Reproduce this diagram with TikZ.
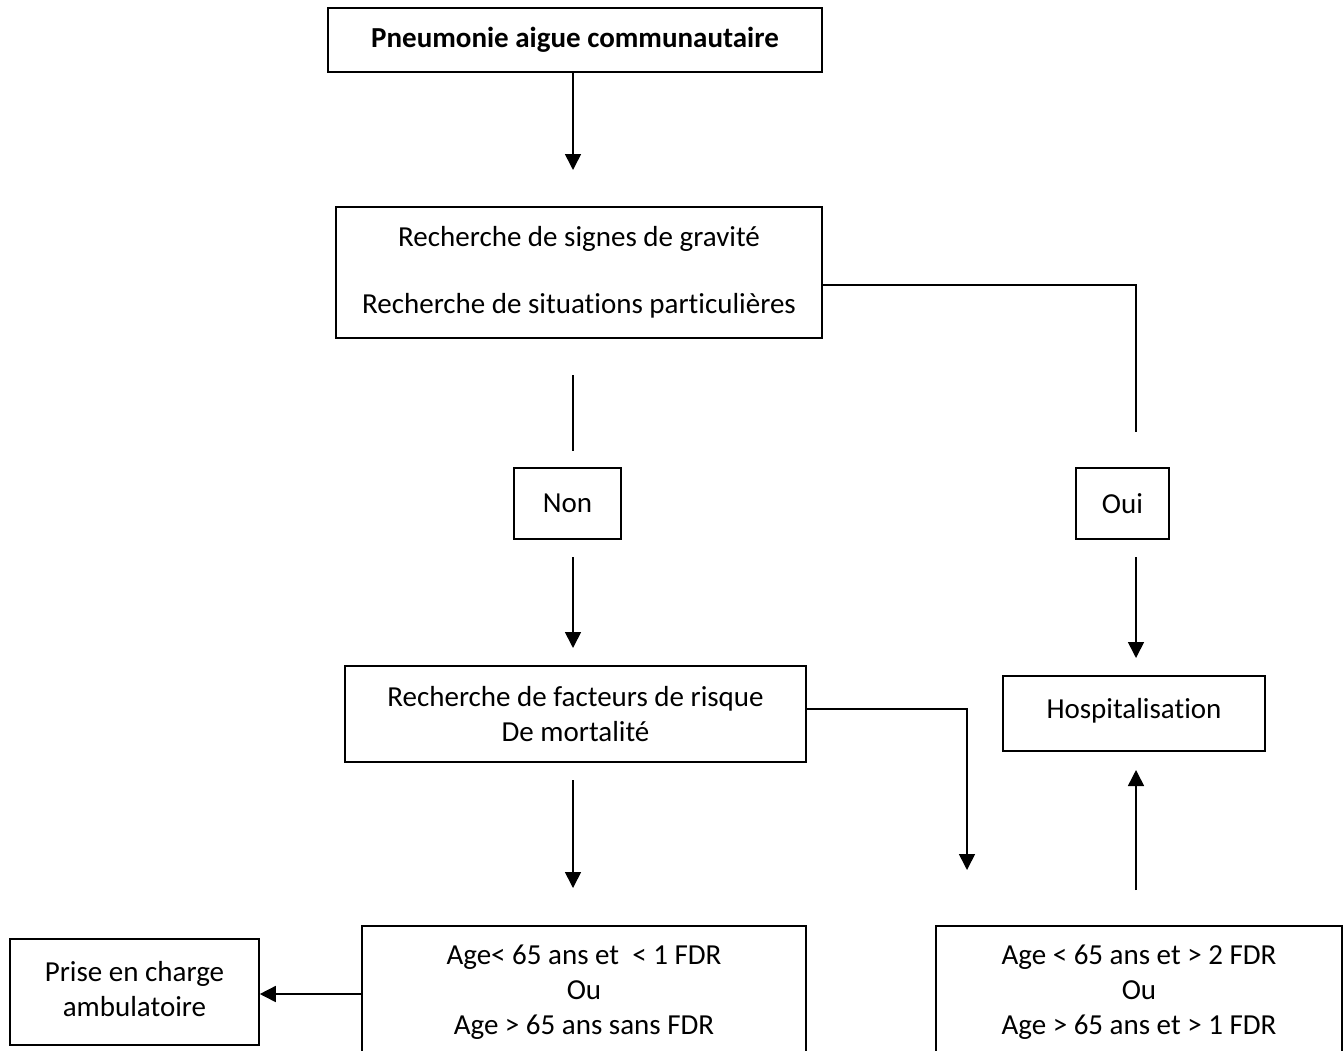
\documentclass[tikz,border=0pt]{standalone}
\usepackage{fontspec}
\setmainfont{Carlito}[Ligatures=CommonOff]
\usetikzlibrary{arrows.meta}
\newcommand\fleche[3]{\coordinate(#1) at #2; \coordinate(#1b) at #3;}

\begin{document}
\begin{tikzpicture}[x=1pt,y=-1pt,line width=1.6pt,
    boite/.style={draw,align=center,inner sep=0pt,font=\fontsize{29}{35}\selectfont},
    fl/.style={-{Triangle[width=16pt,length=16pt]}}]
    \clip (0,0) rectangle (1344,1050);
    \fill[white] (0,0) rectangle (1344,1050);
    % boites
    \node(pac)[boite,minimum width=494pt,minimum height=64pt] at (575,40) {\textbf{Pneumonie aigue communautaire}};
    \node(grav)[boite,minimum width=486pt,minimum height=131pt] at (579,272.5) {Recherche de signes de gravité\\[32pt] Recherche de situations particulières};
    \node(non)[boite,minimum width=107pt,minimum height=71pt] at (567.5,503.5) {Non};
    \node(oui)[boite,minimum width=93pt,minimum height=71pt] at (1122.5,503.5) {Oui};
    \node(fdr)[boite,minimum width=461pt,minimum height=96pt] at (575.5,714) {Recherche de facteurs de risque\\ De mortalité};
    \node(hosp)[boite,minimum width=262pt,minimum height=75pt] at (1134,713.5) {\raisebox{10pt}{Hospitalisation}};
    \node(amb)[boite,minimum width=249pt,minimum height=106pt] at (134.5,992) {Prise en charge\\ ambulatoire\\[-28pt]};
    \node(bas)[boite,minimum width=444pt,minimum height=132pt] at (584,992) {Age< 65 ans et~ < 1 FDR\\ Ou\\ Age > 65 ans sans FDR};
    \node(haut)[boite,minimum width=406pt,minimum height=132pt] at (1139,992) {Age < 65 ans et > 2 FDR\\ Ou\\ Age > 65 ans et > 1 FDR};
    % extremites libres
    \fleche{a}{(573,72)}{(573,170)}
    \fleche{b}{(573,375)}{(573,451)}
    \fleche{c}{(573,557)}{(573,648)}
    \fleche{d}{(1136,557)}{(1136,658)}
    \fleche{e}{(573,780)}{(573,888)}
    \fleche{f}{(1136,890)}{(1136,770)}
    \coordinate(g) at (1136,432);
    \coordinate(h) at (967,870);
    % liaisons
    \draw[fl] (pac.south -| a) -- (ab);
    \draw ([yshift=-12.5pt]grav.east) -| (g);
    \draw (b) -- (bb);
    \draw[fl] (c) -- (cb);
    \draw[fl] (d) -- (db);
    \draw[fl] ([yshift=5pt]fdr.east) -| (h);
    \draw[fl] (e) -- (eb);
    \draw[fl] (f) -- (fb);
    \draw[fl] ([yshift=-2pt]bas.west) -- ([yshift=-2pt]amb.east);
\end{tikzpicture}
\end{document}
